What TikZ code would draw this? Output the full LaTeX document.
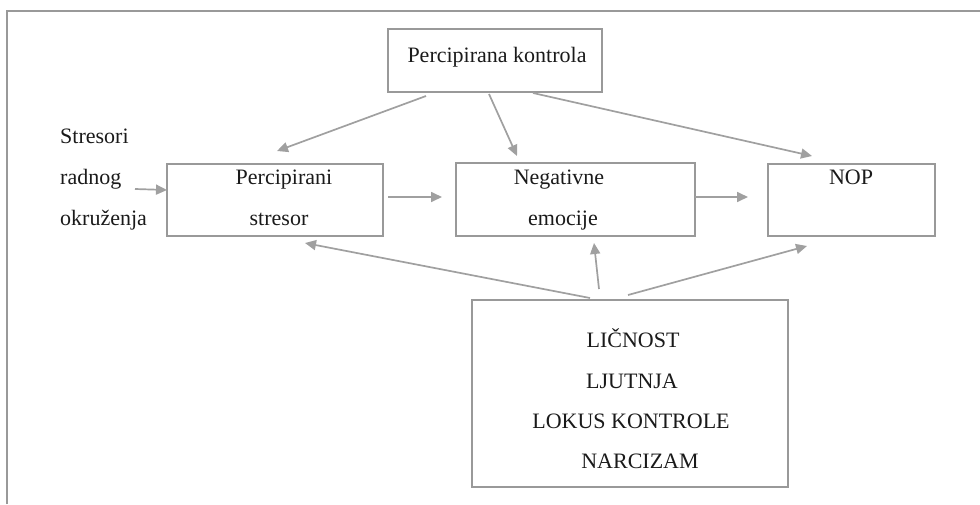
\documentclass[tikz,border=0pt]{standalone}
\usepackage{fontspec}
\setmainfont{Liberation Serif}
\usetikzlibrary{arrows.meta}
\definecolor{linegray}{HTML}{A0A0A0}
\definecolor{boxgray}{HTML}{999999}
\definecolor{txt}{HTML}{1A1A1A}
\tikzset{
  box/.style={draw=boxgray, line width=1.8pt, rectangle, inner sep=0pt},
  lbl/.style={anchor=base, inner sep=0pt, text=txt, font=\fontsize{22}{26}\selectfont},
  lbll/.style={lbl, anchor=base west},
  arr/.style={draw=linegray, line width=1.7pt, -{Triangle[length=11pt,width=10pt]}},
  frameline/.style={draw=boxgray, line width=1.8pt}
}
\begin{document}
\begin{tikzpicture}[x=1pt,y=-1pt]
\useasboundingbox (0,0) rectangle (980,504);
\coordinate (fbl) at (7,504);
\coordinate (ftl) at (7,11);
\coordinate (ftr) at (980,11);
\draw[frameline] (fbl) -- (ftl) -- (ftr);

% boxes
\node[box, minimum width=214pt, minimum height=63pt] (tb) at (495,60.5) {};
\node[box, minimum width=216pt, minimum height=72pt] (ps) at (275,200) {};
\node[box, minimum width=239pt, minimum height=73pt] (ne) at (575.5,199.5) {};
\node[box, minimum width=167pt, minimum height=72pt] (nop) at (851.5,200) {};
\node[box, minimum width=316pt, minimum height=187pt] (bb) at (630,393.5) {};

% texts
\node[lbl] (tbt) at (497,62) {Percipirana kontrola};
\node[lbll] (s1) at (60,143) {Stresori};
\node[lbll] (s2) at (60,184) {radnog};
\node[lbll] (s3) at (60,225) {okruženja};
\node[lbl] (ps1) at (284,184) {Percipirani};
\node[lbl] (ps2) at (279,225) {stresor};
\node[lbl] (ne1) at (559,184) {Negativne};
\node[lbl] (ne2) at (563,225) {emocije};
\node[lbl] (nopt) at (851,184) {NOP};
\node[lbl] (b1) at (633,347) {LIČNOST};
\node[lbl] (b2) at (632,388) {LJUTNJA};
\node[lbl] (b3) at (631,428) {LOKUS KONTROLE};
\node[lbl] (b4) at (640,468) {NARCIZAM};

% connector end points
\coordinate (tbA) at (426,96);
\coordinate (tbB) at (489,94);
\coordinate (tbC) at (533,93);
\coordinate (psN) at (277,151);
\coordinate (neN) at (517,156);
\coordinate (nopN) at (812,156);
\coordinate (stS) at (135,189);
\coordinate (psW) at (167,190);
\coordinate (psE) at (388,197);
\coordinate (neW) at (442,197);
\coordinate (neE) at (695,197);
\coordinate (nopW) at (748,197);
\coordinate (bbA) at (590,298);
\coordinate (bbB) at (599,289);
\coordinate (bbC) at (628,295);
\coordinate (psS) at (305,243);
\coordinate (neS) at (594,243);
\coordinate (nopS) at (807,246);

\draw[arr] (tbA) -- (psN);
\draw[arr] (tbB) -- (neN);
\draw[arr] (tbC) -- (nopN);
\draw[arr] (stS) -- (psW);
\draw[arr] (psE) -- (neW);
\draw[arr] (neE) -- (nopW);
\draw[arr] (bbA) -- (psS);
\draw[arr] (bbB) -- (neS);
\draw[arr] (bbC) -- (nopS);
\end{tikzpicture}
\end{document}
